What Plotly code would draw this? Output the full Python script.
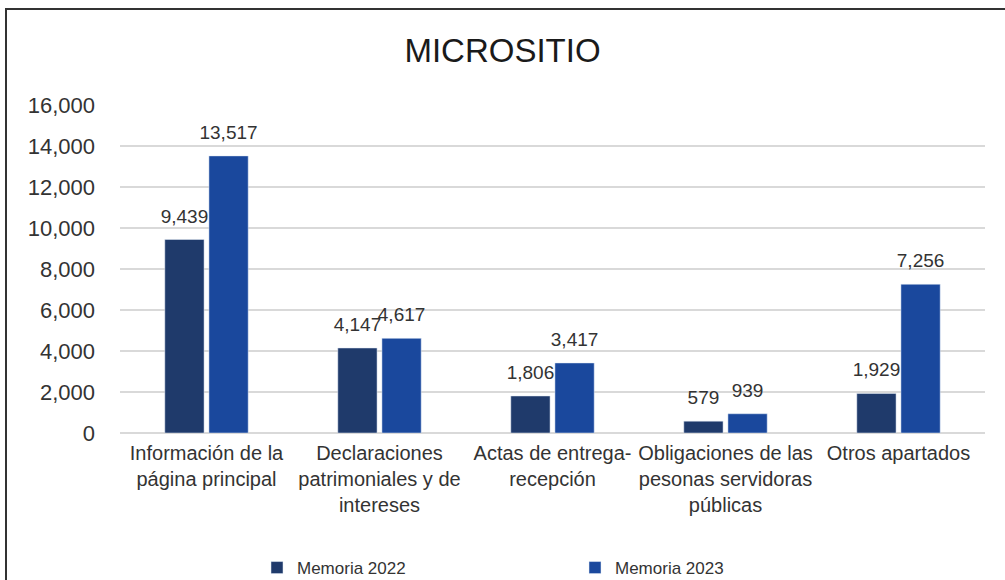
import plotly.graph_objects as go

categories = [
    "Información de la<br>página principal",
    "Declaraciones<br>patrimoniales y de<br>intereses",
    "Actas de entrega-<br>recepción",
    "Obligaciones de las<br>pesonas servidoras<br>públicas",
    "Otros apartados",
]
series_names = ["Memoria 2022", "Memoria 2023"]
memoria_2022 = [9439, 4147, 1806, 579, 1929]
memoria_2023 = [13517, 4617, 3417, 939, 7256]
y_ticks = [0, 2000, 4000, 6000, 8000, 10000, 12000, 14000, 16000]

FONT = "Liberation Sans, Arial, sans-serif"
TEXT = "#333333"
COLORS = ["#1f3a6b", "#1a489d"]

fig = go.Figure()
for name, values, color in zip(series_names, [memoria_2022, memoria_2023], COLORS):
    fig.add_trace(go.Bar(
        name=name, x=categories, y=values, marker_color=color,
        offsetgroup=name, hoverinfo="x+y",
    ))
# value labels: invisible grouped markers carry the text above each bar
for name, values in zip(series_names, [memoria_2022, memoria_2023]):
    fig.add_trace(go.Scatter(
        x=categories, y=values, mode="markers+text",
        offsetgroup=name, showlegend=False, hoverinfo="skip",
        marker=dict(size=18, opacity=0),
        text=[f"{v:,}" for v in values], textposition="top center",
        textfont=dict(size=19, color=TEXT, family=FONT), cliponaxis=False,
    ))

L, R, T, B = 120, 20, 105, 147
W, H = 1005, 580
pw, ph = W - L - R, H - T - B


def px_x(x):
    return (x - L) / pw


def px_y(y):
    return (H - B - y) / ph


fig.update_layout(
    width=W, height=H,
    margin=dict(l=L, r=R, t=T, b=B, autoexpand=False),
    paper_bgcolor="white", plot_bgcolor="white",
    font=dict(family=FONT, size=17, color=TEXT),
    barmode="group", bargap=0.49, bargroupgap=0.11,
    scattermode="group", scattergap=0.49,
    title=dict(text="MICROSITIO", x=0.5, xanchor="center",
               y=1 - 50 / H, yanchor="middle",
               font=dict(size=33, color="#1a1a1a", family=FONT)),
    showlegend=True,
    legend=dict(orientation="h", x=px_x(257), xanchor="left",
                y=px_y(568), yanchor="middle",
                entrywidth=273, entrywidthmode="pixels",
                font=dict(size=17, color=TEXT, family=FONT),
                bgcolor="rgba(0,0,0,0)"),
    shapes=[dict(type="rect", xref="paper", yref="paper",
                 x0=px_x(6), x1=px_x(1015), y0=px_y(595), y1=px_y(9),
                 line=dict(color="#333333", width=2), layer="below")],
)
fig.update_yaxes(range=[0, 16000], tickvals=y_ticks, tickformat=",",
                 gridcolor="#d9d9d9", gridwidth=1.5, zeroline=True,
                 zerolinecolor="#d9d9d9", zerolinewidth=1.5,
                 ticks="", ticklabelstandoff=24,
                 tickfont=dict(size=22, color=TEXT, family=FONT))
fig.update_xaxes(showline=False, ticks="", ticklabelstandoff=6,
                 tickfont=dict(size=20, color=TEXT, family=FONT))

fig.write_html("out.html")
